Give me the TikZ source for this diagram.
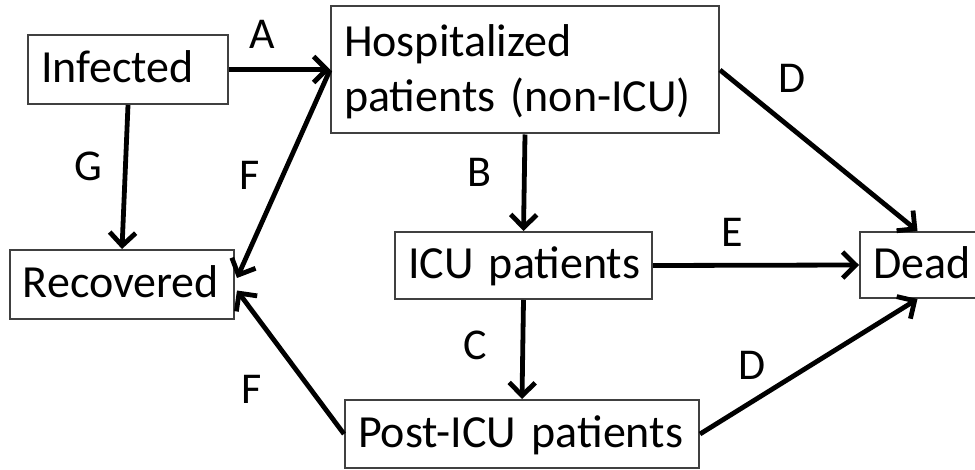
\documentclass[tikz,border=0pt]{standalone}
\usepackage{fontspec}
\setmainfont{Carlito}
\usetikzlibrary{arrows.meta,calc}
\definecolor{boxgray}{HTML}{404040}
\begin{document}
\begin{tikzpicture}[x=1pt,y=-1pt,
  box/.style={draw=boxgray, line width=2pt, inner xsep=13pt, inner ysep=0pt, align=left,
    font=\fontsize{46}{55}\selectfont, text height=31pt, text depth=4pt},
  flow/.style={line width=4.8pt, -{Straight Barb[length=13pt,width=26pt]}},
  lbl/.style={font=\fontsize{44}{50}\selectfont, inner sep=0pt}]
\useasboundingbox (0,0) rectangle (975,470);
\node[box, text width=174pt, minimum height=69pt] (inf) at (128,69.5) {\mbox{Infected}};
\node[box, text width=362pt, minimum height=127pt, text height=32pt, text depth=59pt] (hosp) at (525,70) {\mbox{Hospitalized}\\\mbox{patients (non-ICU)}};
\node[box, text width=198pt, minimum height=69pt] (rec) at (122,284.5) {\mbox{Recovered}};
\node[box, text width=231pt, minimum height=67pt] (icu) at (523.5,265.5) {\mbox{ICU patients}};
\node[box, text width=99pt, minimum height=66pt] (dead) at (922.5,265) {\mbox{Dead}};
\node[box, text width=328pt, minimum height=68pt] (post) at (522,434) {\mbox{Post-ICU patients}};

\draw[flow] (inf.east) -- (inf.east -| hosp.west);
\draw[flow] (inf.south) -- (rec.north);
\draw[flow] (hosp.west) -- ($(rec.east)+(2,-6.5)$);
\draw[flow] (post.west) -- ($(rec.east)+(2,6)$);
\draw[flow] (hosp.south) -- (icu.north);
\draw[flow] (icu.south) -- (post.north);
\draw[flow] (icu.east) -- (dead.west);
\draw[flow] (hosp.east) -- ($(dead.north)+(-5,0)$);
\draw[flow] (post.east) -- ($(dead.south)+(-5,0)$);

\node[lbl] (lA) at (262,34) {A};
\node[lbl] (lG) at (88,166) {G};
\node[lbl] (lF1) at (250,175) {F};
\node[lbl] (lF2) at (252,389) {F};
\node[lbl] (lB) at (479,172) {B};
\node[lbl] (lC) at (475,345) {C};
\node[lbl] (lE) at (732,232) {E};
\node[lbl] (lD1) at (792,78) {D};
\node[lbl] (lD2) at (752,365) {D};
\end{tikzpicture}
\end{document}
